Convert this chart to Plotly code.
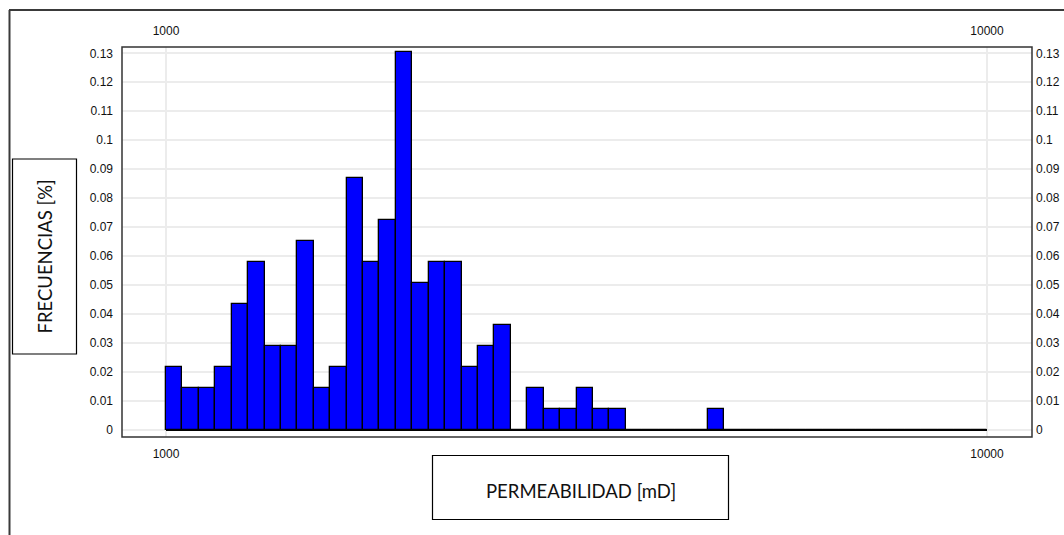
import numpy as np
import plotly.graph_objects as go

# Permeability histogram: 50 logarithmic classes between 1000 and 10000 mD
k_min, k_max = 1000, 10000
n_bins = 50
freq = [
    0.0217, 0.0145, 0.0145, 0.0217, 0.0435, 0.0580, 0.0290, 0.0290, 0.0652, 0.0145,
    0.0217, 0.0870, 0.0580, 0.0725, 0.1304, 0.0507, 0.0580, 0.0580, 0.0217, 0.0290,
    0.0362, 0.0, 0.0145, 0.0072, 0.0072, 0.0145, 0.0072, 0.0072, 0.0, 0.0,
    0.0, 0.0, 0.0, 0.0072, 0.0, 0.0, 0.0, 0.0, 0.0, 0.0,
    0.0, 0.0, 0.0, 0.0, 0.0, 0.0, 0.0, 0.0, 0.0, 0.0,
]
x_ticks = [1000, 10000]
y_ticks = [0, 0.01, 0.02, 0.03, 0.04, 0.05, 0.06, 0.07, 0.08, 0.09, 0.1, 0.11, 0.12, 0.13]
y_title = "FRECUENCIAS [%]"
x_title = "PERMEABILIDAD [mD]"

# class edges in log10(mD); the axis is drawn in log10 units
log_edges = np.linspace(np.log10(k_min), np.log10(k_max), n_bins + 1)
log_centers = (log_edges[:-1] + log_edges[1:]) / 2
log_width = log_edges[1] - log_edges[0]

W, H = 1064, 535
L, R, T, B = 122, 32, 47, 98
PW, PH = W - L - R, H - T - B


def px(x):
    return (x - L) / PW


def py(y):
    return (H - B - y) / PH


tick_font = dict(family="Liberation Sans, Arial, sans-serif", size=12, color="#111111")
title_font = dict(family="Lato, Open Sans, sans-serif", size=18.5, color="#111111")
grid = "#ececec"

fig = go.Figure()
fig.add_trace(go.Bar(
    x=log_centers, y=freq, width=log_width,
    marker=dict(color="#0000FF", line=dict(color="#000000", width=1.3)),
    showlegend=False, hoverinfo="skip",
))
# baseline across the full class range
fig.add_trace(go.Scatter(
    x=[log_edges[0], log_edges[-1]], y=[0, 0], mode="lines",
    line=dict(color="#000000", width=2), showlegend=False, hoverinfo="skip",
))
# invisible trace bound to the mirrored top / right axes
fig.add_trace(go.Scatter(x=[log_edges[0]], y=[0], xaxis="x2", yaxis="y2",
                         mode="markers", marker=dict(opacity=0), showlegend=False, hoverinfo="skip"))

log_ticks = [np.log10(v) for v in x_ticks]
tick_text = [str(v) for v in x_ticks]
minor_vals = [np.log10(k_min * m) for m in range(2, 10)]

x_range = [3 - 44 / 821, 4 + 45 / 821]
y_range = [-7 / 2900, 0.13 + 6.3 / 2900]

common = dict(zeroline=False, showline=False, ticks="", tickfont=tick_font, automargin=False)

fig.update_layout(
    width=W, height=H,
    margin=dict(l=L, r=R, t=T, b=B),
    paper_bgcolor="white", plot_bgcolor="white",
    bargap=0,
    xaxis=dict(range=x_range, tickvals=log_ticks, ticktext=tick_text, showgrid=True,
               gridcolor=grid, gridwidth=1.5, ticklabelstandoff=8,
               minor=dict(tickvals=minor_vals, showgrid=True, gridcolor="white", gridwidth=2),
               **common),
    xaxis2=dict(range=x_range, overlaying="x", side="top", tickvals=log_ticks,
                ticktext=tick_text, showgrid=False, ticklabelstandoff=9, **common),
    yaxis=dict(range=y_range, tickvals=y_ticks, ticktext=[f"{v:g}" for v in y_ticks],
               showgrid=True, gridcolor=grid, gridwidth=1.5, ticklabelstandoff=8, **common),
    yaxis2=dict(range=y_range, overlaying="y", side="right", tickvals=y_ticks,
                ticktext=[f"{v:g}" for v in y_ticks], showgrid=False, ticklabelstandoff=3,
                **common),
    shapes=[
        # plot frame
        dict(type="rect", xref="paper", yref="paper", x0=0, x1=1, y0=0, y1=1,
             line=dict(color="#333333", width=1.5), layer="above"),
        # outer frame
        dict(type="line", xref="paper", yref="paper", x0=px(9), x1=px(1070), y0=py(10), y1=py(10),
             line=dict(color="#3a3a3a", width=2)),
        dict(type="line", xref="paper", yref="paper", x0=px(9.5), x1=px(9.5), y0=py(10), y1=py(540),
             line=dict(color="#3a3a3a", width=2)),
        # axis title boxes
        dict(type="rect", xref="paper", yref="paper", x0=px(12.5), x1=px(76.5), y0=py(159), y1=py(354),
             line=dict(color="#000000", width=1.2)),
        dict(type="rect", xref="paper", yref="paper", x0=px(432.5), x1=px(728.5), y0=py(455.5), y1=py(519.5),
             line=dict(color="#000000", width=1.2)),
    ],
    annotations=[
        dict(text=y_title, xref="paper", yref="paper", x=px(44.5), y=py(257), showarrow=False,
             textangle=-90, font=title_font, xanchor="center", yanchor="middle"),
        dict(text=x_title, xref="paper", yref="paper", x=px(580.5), y=py(491), showarrow=False,
             font=title_font, xanchor="center", yanchor="middle"),
    ],
)

fig.write_html("out.html")
